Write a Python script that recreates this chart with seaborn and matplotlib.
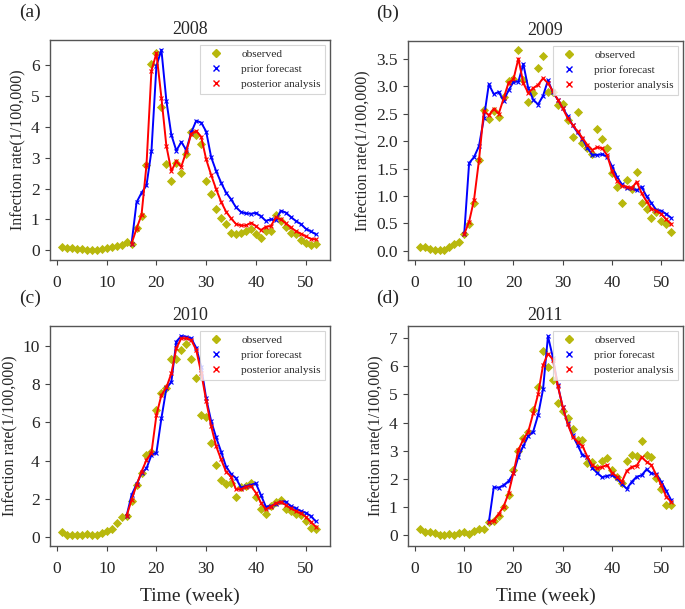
import numpy as np
import pandas as pd
import matplotlib
matplotlib.use("Agg")
import matplotlib.pyplot as plt
import seaborn as sns
from matplotlib.lines import Line2D

weeks = list(range(1, 53))

obs_2008 = [0.11, 0.08, 0.06, 0.04, 0.04, 0.02, 0.01, 0.0, 0.04, 0.06, 0.1, 0.12, 0.18, 0.28, 0.21,
            0.73, 1.12, 2.76, 6.04, 6.39, 4.64, 2.8, 2.24, 2.84, 2.51, 3.12, 3.83, 3.74, 3.45, 2.26,
            1.82, 1.35, 1.03, 0.85, 0.56, 0.54, 0.56, 0.63, 0.69, 0.52, 0.40, 0.63, 0.63, 1.14, 0.95,
            0.74, 0.56, 0.54, 0.33, 0.22, 0.17, 0.21]
prior_2008 = [0.21, 1.55, 1.86, 2.1, 3.22, 5.98, 6.5, 4.85, 3.74, 3.23, 3.51, 3.25, 3.82, 4.2, 4.14,
              3.85, 3.02, 2.57, 2.19, 1.87, 1.65, 1.39, 1.24, 1.19, 1.18, 1.21, 1.1, 0.95, 1.0, 0.97,
              1.28, 1.22, 1.08, 0.95, 0.85, 0.7, 0.61, 0.52]
post_2008 = [0.21, 0.7, 1.14, 2.76, 5.83, 6.39, 4.95, 3.38, 2.57, 2.88, 2.71, 3.2, 3.78, 3.87, 3.68,
             2.95, 2.44, 1.98, 1.57, 1.25, 1.03, 0.85, 0.8, 0.8, 0.89, 0.78, 0.65, 0.76, 0.78, 1.06,
             1.0, 0.87, 0.74, 0.62, 0.54, 0.45, 0.37, 0.35]

obs_2009 = [0.07, 0.07, 0.04, 0.01, 0.01, 0.02, 0.07, 0.13, 0.16, 0.3, 0.49, 0.88, 1.65, 2.57, 2.41,
            2.55, 2.44, 2.8, 3.1, 3.13, 3.67, 3.12, 2.71, 2.88, 3.34, 3.56, 2.89, 2.89, 2.67, 2.68,
            2.38, 2.07, 2.54, 1.96, 1.87, 1.76, 2.22, 2.04, 1.87, 1.41, 1.17, 0.88, 1.29, 1.13, 1.44,
            0.87, 0.76, 0.59, 0.71, 0.54, 0.49, 0.34]
prior_2009 = [0.3, 1.6, 1.71, 1.91, 2.42, 3.04, 2.86, 2.9, 2.74, 2.93, 3.08, 3.09, 3.41, 2.97, 2.76,
              2.67, 2.83, 3.11, 2.89, 2.76, 2.6, 2.46, 2.29, 2.16, 2.04, 1.88, 1.75, 1.75, 1.76, 1.72,
              1.54, 1.35, 1.21, 1.14, 1.14, 1.1, 1.17, 0.99, 0.87, 0.74, 0.73, 0.67, 0.6]
post_2009 = [0.3, 0.53, 0.93, 1.65, 2.56, 2.47, 2.59, 2.5, 2.78, 3.07, 3.13, 3.51, 3.06, 2.88, 2.97,
             3.03, 3.15, 3.06, 2.91, 2.76, 2.6, 2.42, 2.3, 2.18, 2.06, 1.93, 1.84, 1.89, 1.87, 1.75,
             1.45, 1.28, 1.18, 1.17, 1.14, 1.26, 1.05, 0.9, 0.77, 0.73, 0.67, 0.57, 0.49]

obs_2010 = [0.26, 0.1, 0.1, 0.1, 0.09, 0.14, 0.07, 0.07, 0.18, 0.3, 0.42, 0.7, 1.02, 1.09, 1.86,
            2.71, 3.33, 4.29, 4.47, 6.64, 7.57, 7.79, 9.32, 9.32, 9.81, 10.12, 9.32, 8.34, 6.4, 6.27,
            4.94, 3.78, 2.98, 2.77, 2.84, 2.1, 2.59, 2.66, 2.84, 2.1, 1.45, 1.17, 1.61, 1.82, 1.93,
            1.45, 1.37, 1.17, 1.14, 0.82, 0.47, 0.39]
prior_2010 = [1.09, 2.19, 2.75, 3.33, 3.59, 4.29, 4.41, 6.22, 7.79, 8.14, 10.25, 10.54, 10.51, 10.42,
              9.93, 8.93, 7.27, 6.08, 5.22, 4.47, 3.68, 3.3, 3.07, 2.58, 2.66, 2.72, 2.8, 2.19, 1.58,
              1.61, 1.72, 1.84, 1.84, 1.61, 1.49, 1.35, 1.26, 1.09, 0.82]
post_2010 = [1.09, 1.93, 2.71, 3.42, 4.03, 4.41, 6.39, 7.44, 7.84, 8.58, 9.9, 10.42, 10.42, 10.33,
             9.81, 8.62, 7.15, 5.81, 4.76, 4.06, 3.42, 3.15, 2.49, 2.49, 2.63, 2.66, 2.31, 1.79, 1.44,
             1.58, 1.75, 1.84, 1.66, 1.49, 1.35, 1.23, 1.05, 0.79, 0.53]

obs_2011 = [0.21, 0.13, 0.11, 0.07, 0.0, 0.01, 0.05, 0.02, 0.07, 0.11, 0.06, 0.14, 0.24, 0.24, 0.46,
            0.52, 0.69, 1.0, 1.44, 2.32, 3.01, 3.44, 3.68, 4.44, 5.25, 6.55, 5.98, 5.51, 4.68, 4.41,
            4.15, 3.79, 3.4, 3.4, 2.58, 2.61, 2.38, 2.65, 2.73, 2.32, 2.08, 1.87, 2.65, 2.84, 2.81,
            3.36, 2.84, 2.79, 2.02, 1.63, 1.08, 1.08]
prior_2011 = [0.46, 1.7, 1.69, 1.78, 1.92, 2.2, 2.79, 3.17, 3.52, 3.68, 4.27, 5.18, 7.07, 6.31, 5.33,
              4.54, 3.97, 3.56, 3.2, 2.85, 2.77, 2.38, 2.22, 2.06, 2.11, 2.14, 2.02, 1.82, 1.65, 1.9,
              2.08, 2.13, 2.34, 2.2, 2.17, 1.9, 1.58, 1.25]
post_2011 = [0.46, 0.52, 0.76, 1.02, 1.49, 2.22, 3.03, 3.4, 3.68, 4.33, 5.01, 6.04, 6.45, 6.24, 5.3,
             4.56, 3.95, 3.5, 3.32, 3.17, 2.79, 2.49, 2.38, 2.43, 2.49, 2.22, 2.08, 1.9, 2.29, 2.43,
             2.47, 2.77, 2.61, 2.49, 2.14, 1.78, 1.37, 1.19]

years = ["2008", "2009", "2010", "2011"]
panel_tags = ["(a)", "(b)", "(c)", "(d)"]
observed = [obs_2008, obs_2009, obs_2010, obs_2011]
prior = [prior_2008, prior_2009, prior_2010, prior_2011]
posterior = [post_2008, post_2009, post_2010, post_2011]

sns.set_style("white")
plt.rcParams["font.family"] = ["Liberation Serif", "DejaVu Serif"]
plt.rcParams["xtick.bottom"] = True
plt.rcParams["ytick.left"] = True

W, H = 685, 609
fig = plt.figure(figsize=(W / 100, H / 100), dpi=100)

# pixel boxes: left, top, right, bottom
boxes = [(50, 40, 330, 260), (408, 41, 683, 260), (50, 326, 330, 546), (408, 326, 683, 546)]
ylims = [(-0.32, 6.82), (-0.17, 3.83), (-0.49, 11.07), (-0.38, 7.43)]
ysteps = [1, 0.5, 2, 1]
ymaxes = [6, 3.5, 10, 7]

olive = (0.72, 0.72, 0.05)

for i in range(4):
    l, t, r, b = boxes[i]
    ax = fig.add_axes([l / W, 1 - b / H, (r - l) / W, (b - t) / H])
    obs = observed[i]
    pri = prior[i]
    pos = posterior[i]
    start = 53 - len(pri)
    d_obs = pd.DataFrame({"week": weeks, "rate": obs})
    d_pri = pd.DataFrame({"week": weeks[start - 1:], "rate": pri})
    d_pos = pd.DataFrame({"week": weeks[start - 1:], "rate": pos})

    sns.scatterplot(data=d_obs, x="week", y="rate", ax=ax, marker="D", s=22,
                    color=olive, edgecolor=olive, linewidth=0, zorder=2)
    sns.lineplot(data=d_pri, x="week", y="rate", ax=ax, color="b", lw=1.4,
                 marker="x", markersize=3.5, markeredgewidth=0.8,
                 markeredgecolor="b", zorder=3)
    sns.lineplot(data=d_pos, x="week", y="rate", ax=ax, color="r", lw=1.4,
                 marker="x", markersize=3.5, markeredgewidth=0.8,
                 markeredgecolor="r", zorder=4)

    ax.set_xlim(-1.4, 54.9 if i % 2 == 0 else 54.4)
    ax.set_ylim(*ylims[i])
    ax.set_xticks([0, 10, 20, 30, 40, 50])
    yt = np.arange(0, ymaxes[i] + 0.001, ysteps[i])
    ax.set_yticks(yt)
    if i == 1:
        ax.set_yticklabels([f"{v:.1f}" for v in yt])
    else:
        ax.set_yticklabels([f"{v:g}" for v in yt])
    ax.tick_params(axis="x", labelsize=12.5, length=3.5, width=0.8, color="#444444", pad=7)
    ax.tick_params(axis="y", labelsize=12.5, length=3.5, width=0.8, color="#444444", pad=4)
    for sp in ax.spines.values():
        sp.set_color("#555555")
        sp.set_linewidth(1.0)

    ax.set_title(years[i], fontsize=13, pad=4)
    ax.set_ylabel("Infection rate(1/100,000)", fontsize=11.5, labelpad=3)
    if i >= 2:
        ax.set_xlabel("Time (week)", fontsize=14, labelpad=8)
    else:
        ax.set_xlabel("")

    handles = [
        Line2D([], [], ls="none", marker="D", color=olive, markersize=4.5),
        Line2D([], [], ls="none", marker="x", color="b", markersize=4.5, markeredgewidth=1),
        Line2D([], [], ls="none", marker="x", color="r", markersize=4.5, markeredgewidth=1),
    ]
    leg = ax.legend(handles, ["observed", "prior forecast", "posterior analysis"],
                    loc="upper right", fontsize=8.2, frameon=True, fancybox=False,
                    borderaxespad=0.4, handletextpad=1.2, labelspacing=0.45)
    leg.get_frame().set_edgecolor("#cccccc")
    leg.get_frame().set_linewidth(0.8)

    fig.text((l - 20) / W, 1 - (t - 28) / H, panel_tags[i], fontsize=14, ha="center", va="center")

fig.savefig("out.png", dpi=100)
